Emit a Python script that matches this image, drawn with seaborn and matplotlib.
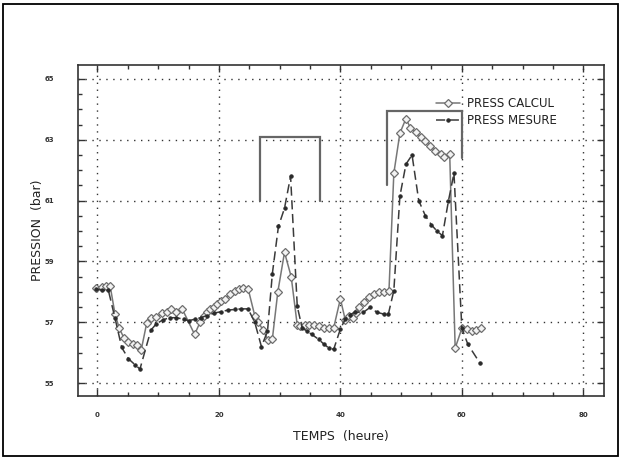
import numpy as np
import pandas as pd
import matplotlib
matplotlib.use("Agg")
import matplotlib.pyplot as plt
from matplotlib.patches import Rectangle
from matplotlib.ticker import MultipleLocator
import seaborn as sns

# ---- data ----
calc_t = [-0.2, 0.7, 1.4, 2.1, 2.9, 3.6, 4.4, 5.1, 5.8, 6.5, 7.2, 8.1, 8.9, 9.7,
          10.6, 11.4, 12.1, 13.0, 14.0, 16.0, 16.9, 17.5, 18.0, 18.6, 19.2, 19.7,
          20.4, 21.0, 21.8, 22.6, 23.3, 24.0, 24.8, 25.9, 26.5, 27.3, 28.1, 28.8,
          29.7, 30.8, 31.9, 32.9, 33.4, 34.1, 34.8, 35.6, 36.4, 37.25, 38.1, 38.9,
          40.0, 40.8, 41.5, 42.1, 42.6, 43.1, 43.9, 44.7, 45.6, 46.4, 47.2, 48.0,
          48.8, 49.8, 50.8, 51.5, 52.4, 53.2, 54.0, 54.8, 55.6, 56.5, 57.1, 58.0,
          58.9, 60.0, 60.8, 61.6, 62.4, 63.2]
calc_v = [58.13, 58.17, 58.19, 58.19, 57.26, 56.8, 56.47, 56.36, 56.3, 56.25, 56.08,
          56.96, 57.15, 57.18, 57.29, 57.35, 57.42, 57.35, 57.42, 56.6, 57.0, 57.2,
          57.33, 57.45, 57.5, 57.6, 57.7, 57.78, 57.92, 58.02, 58.1, 58.13, 58.11,
          57.22, 57.0, 56.73, 56.4, 56.45, 58.0, 59.3, 58.5, 56.9, 56.89, 56.92,
          56.92, 56.9, 56.87, 56.82, 56.8, 56.82, 57.77, 57.08, 57.2, 57.15, 57.3,
          57.49, 57.66, 57.82, 57.93, 57.98, 58.0, 58.04, 61.9, 63.22, 63.7, 63.4,
          63.25, 63.1, 62.95, 62.8, 62.62, 62.52, 62.45, 62.52, 56.15, 56.8, 56.78,
          56.7, 56.75, 56.82]

mes_t = [-0.2, 0.8, 1.8, 2.9, 4.0, 5.1, 6.2, 7.0, 8.8, 9.7, 10.8, 11.9, 13.0, 14.2,
         15.0, 16.0, 17.0, 18.0, 19.2, 20.4, 21.5, 22.6, 23.7, 24.8, 25.9, 27.0,
         28.0, 28.8, 29.8, 30.8, 31.8, 32.9, 33.7, 34.5, 35.3, 36.4, 37.3, 38.1,
         38.9, 40.0, 40.8, 41.6, 42.4, 43.8, 44.9, 46.0, 47.1, 47.9, 48.8, 49.8,
         50.8, 51.8, 52.9, 54.0, 55.0, 55.9, 56.8, 57.8, 58.7, 60.0, 61.0, 63.0]
mes_v = [58.1, 58.05, 58.05, 57.13, 56.17, 55.8, 55.6, 55.46, 56.74, 56.95, 57.08,
         57.15, 57.15, 57.1, 57.05, 57.1, 57.15, 57.22, 57.3, 57.35, 57.4, 57.42,
         57.44, 57.44, 57.0, 56.2, 56.7, 58.6, 60.15, 60.75, 61.8, 57.52, 56.82,
         56.7, 56.6, 56.44, 56.28, 56.15, 56.11, 56.78, 57.1, 57.25, 57.33, 57.33,
         57.49, 57.33, 57.27, 57.27, 58.04, 61.15, 62.2, 62.5, 61.0, 60.5, 60.2,
         60.0, 59.85, 61.0, 61.9, 56.8, 56.27, 55.65]

# annotation brackets (open at the bottom)
bracket1_t = [26.8, 26.8, 36.7, 36.7]
bracket1_v = [61.0, 63.1, 63.1, 61.0]
bracket2_t = [47.6, 47.6, 60.0, 60.0]
bracket2_v = [61.5, 63.95, 63.95, 62.4]

x_ticks = [0, 20, 40, 60, 80]
y_ticks = [55, 57, 59, 61, 63, 65]

labels = ["PRESS CALCUL", "PRESS MESURE"]

# ---- plot ----
sns.set_style("ticks")
plt.rcParams["font.family"] = ["DejaVu Sans"]

fig = plt.figure(figsize=(6.21, 4.61), dpi=100)
ax = fig.add_axes([0.1256, 0.142, 0.847, 0.717])

df_c = pd.DataFrame({"t": calc_t, "v": calc_v})
df_m = pd.DataFrame({"t": mes_t, "v": mes_v})

sns.lineplot(data=df_c, x="t", y="v", ax=ax, estimator=None, sort=False,
             color="#777777", lw=1.1, marker="D", markersize=4.2,
             markerfacecolor="#f2f2f2", markeredgecolor="#6e6e6e",
             markeredgewidth=0.9, label=labels[0])
sns.lineplot(data=df_m, x="t", y="v", ax=ax, estimator=None, sort=False,
             color="#3a3a3a", lw=1.1, linestyle=(0, (6, 3)), marker="o",
             markersize=2.4, markerfacecolor="#2a2a2a", markeredgecolor="#2a2a2a",
             label=labels[1])

ax.plot(bracket1_t, bracket1_v, color="#666666", lw=1.6, solid_joinstyle="miter")
ax.plot(bracket2_t, bracket2_v, color="#666666", lw=1.6, solid_joinstyle="miter")

ax.set_xlim(-3.2, 83.4)
ax.set_ylim(54.59, 65.46)
ax.set_xticks(x_ticks)
ax.set_yticks(y_ticks)
ax.xaxis.set_minor_locator(MultipleLocator(5))
ax.yaxis.set_minor_locator(MultipleLocator(0.5))
ax.tick_params(which="both", direction="in", top=True, right=True,
               labelsize=5, width=1.0, colors="#333333", pad=12)
ax.tick_params(which="major", length=5)
ax.tick_params(which="minor", length=3)
for lab in ax.get_xticklabels() + ax.get_yticklabels():
    lab.set_fontweight("bold")
ax.tick_params(axis="y", pad=17)

ax.grid(True, which="major", linestyle=(0, (1, 4)), color="#333333", lw=1.0)
for s in ax.spines.values():
    s.set_color("#333333")
    s.set_linewidth(1.2)

ax.set_xlabel("TEMPS  (heure)", fontsize=9, color="#222222")
ax.set_ylabel("PRESSION  (bar)", fontsize=9, color="#222222")
ax.yaxis.set_label_coords(-0.064, 0.5)
ax.xaxis.set_label_coords(0.5, -0.105)

leg = ax.legend(loc="upper left", bbox_to_anchor=(0.672, 0.918), frameon=False,
                fontsize=8.5, handlelength=2.0, handletextpad=0.6,
                labelspacing=0.35, borderaxespad=0)
for t in leg.get_texts():
    t.set_color("#222222")

fig.patches.append(Rectangle((0.005, 0.01), 0.99, 0.982, transform=fig.transFigure,
                             fill=False, edgecolor="black", lw=1.3))

fig.savefig("out.png", dpi=100)
